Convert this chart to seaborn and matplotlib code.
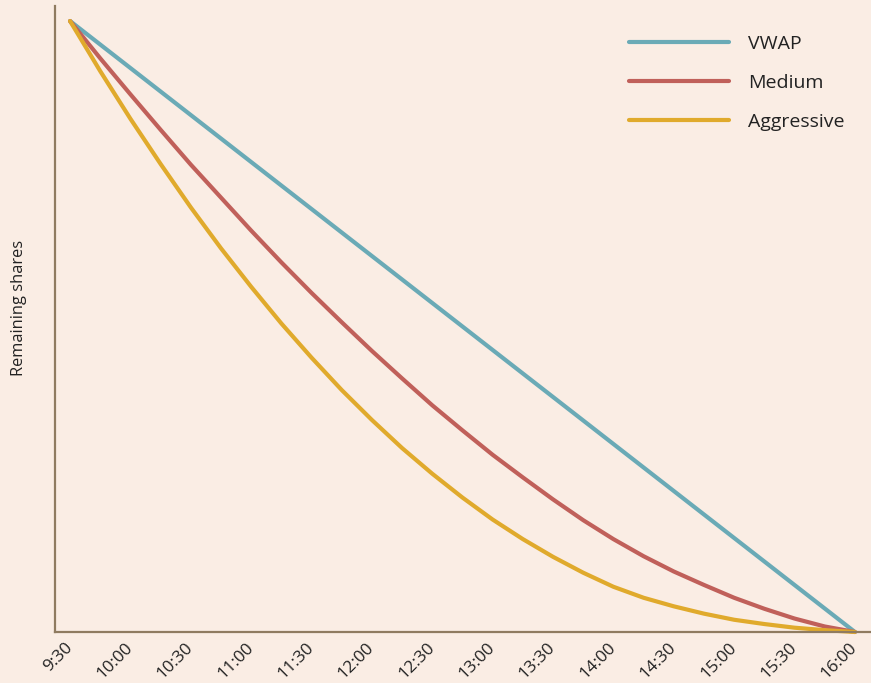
import matplotlib
matplotlib.use("Agg")
import matplotlib.pyplot as plt
import seaborn as sns
import pandas as pd

# Minutes after 9:30, every quarter hour until 16:00
minutes = [15 * j for j in range(27)]

vwap = [1 - j / 26 for j in range(27)]
medium = [1.0, 0.939, 0.880, 0.822, 0.765, 0.711, 0.657, 0.605, 0.555, 0.507,
          0.460, 0.415, 0.371, 0.330, 0.290, 0.253, 0.217, 0.183, 0.152, 0.124,
          0.099, 0.077, 0.056, 0.038, 0.022, 0.009, 0.0]
aggressive = [1.0, 0.918, 0.840, 0.766, 0.695, 0.628, 0.565, 0.505, 0.449, 0.396,
              0.347, 0.301, 0.259, 0.220, 0.184, 0.152, 0.123, 0.097, 0.074, 0.056,
              0.042, 0.030, 0.020, 0.013, 0.007, 0.003, 0.0]

tick_minutes = [30 * i for i in range(14)]
tick_labels = ["9:30", "10:00", "10:30", "11:00", "11:30", "12:00", "12:30",
               "13:00", "13:30", "14:00", "14:30", "15:00", "15:30", "16:00"]

series_names = ["VWAP", "Medium", "Aggressive"]
colors = ["#6aaab6", "#c0605a", "#e0aa2c"]

df = pd.concat([
    pd.DataFrame({"minute": minutes, "remaining": vals, "strategy": name})
    for name, vals in zip(series_names, [vwap, medium, aggressive])
])

bg = "#faede4"
spine_col = "#8f7b60"
text_col = "#222222"

sns.set_theme(style="white")
plt.rcParams["font.family"] = ["Open Sans", "DejaVu Sans"]

fig = plt.figure(figsize=(8.71, 6.83), dpi=100, facecolor=bg)
ax = fig.add_axes([0.0631, 0.0747, 0.9369, 0.9165])
ax.set_facecolor(bg)

sns.lineplot(data=df, x="minute", y="remaining", hue="strategy",
             hue_order=series_names, palette=colors, linewidth=3,
             ax=ax, clip_on=False)

ax.set_xlim(-7.5, 398)
ax.set_ylim(0, 1.0246)

for side in ["top", "right"]:
    ax.spines[side].set_visible(False)
for side in ["left", "bottom"]:
    ax.spines[side].set_color(spine_col)
    ax.spines[side].set_linewidth(1.6)

ax.set_yticks([])
ax.set_xticks(tick_minutes)
ax.set_xticklabels(tick_labels, rotation=45, ha="right", va="center",
                   rotation_mode="anchor", fontsize=12.3, color=text_col)
ax.tick_params(axis="x", length=0, pad=9.5)
ax.set_xlabel("")
ax.set_ylabel("Remaining shares", fontsize=11.8, color=text_col)
ax.yaxis.set_label_coords(-0.034, 0.5176)

leg = ax.legend(loc="upper left", bbox_to_anchor=(619 / 871, 1 - 25 / 683),
                bbox_transform=fig.transFigure, frameon=False, borderpad=0,
                fontsize=14, handlelength=5.15, handletextpad=0.98,
                labelspacing=1.08)
for t in leg.get_texts():
    t.set_color(text_col)
for h in leg.get_lines():
    h.set_linewidth(3)

fig.savefig("out.png", dpi=100, facecolor=bg)
